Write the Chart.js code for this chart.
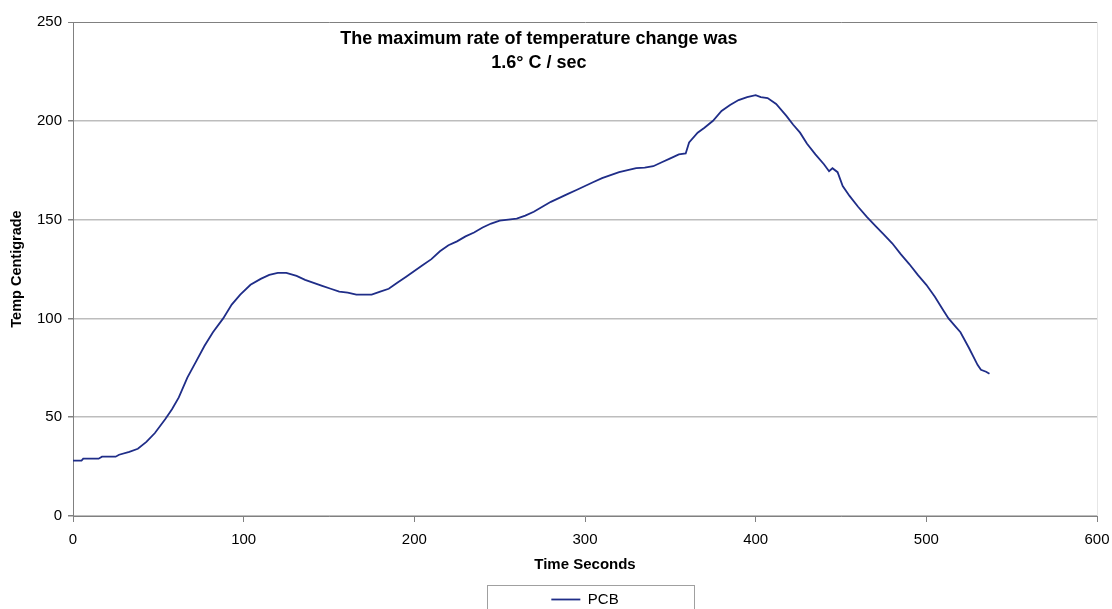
<!DOCTYPE html>
<html>
<head>
<meta charset="utf-8">
<script src="https://cdn.jsdelivr.net/npm/chart.js@4/dist/chart.umd.min.js"></script>
<style>
  html, body { margin: 0; padding: 0; background: #fff; overflow: hidden; }
  #wrap { width: 1112px; height: 617px; position: relative; }
</style>
</head>
<body>
<div id="wrap"><canvas id="tempChart"></canvas></div>
<script>
// readings off the reflow profile (seconds, deg C)
var timeSeconds = [0, 5, 6, 15, 17, 25, 27, 33, 38, 43, 48, 54, 58, 62, 67, 72, 77, 82, 88, 93,
  98, 104, 110, 115, 120, 125, 131, 136, 141, 146, 151, 156, 161, 166, 170, 175, 180, 185, 190, 195,
  200, 205, 210, 215, 220, 225, 230, 235, 240, 245, 250, 255, 260, 265, 270, 275, 280, 285, 290, 295,
  300, 305, 310, 315, 320, 325, 330, 335, 340, 345, 350, 355, 359, 361, 366, 370, 375, 380, 385, 390,
  395, 400, 403, 407, 412, 418, 422, 426, 430, 435, 440, 443, 445, 448, 451, 455, 460, 465, 470, 475,
  480, 485, 490, 495, 500, 505, 510, 513, 517, 520, 525, 530, 532, 535, 537];
var pcbTemp = [28, 28, 29, 29, 30, 30, 31, 32.5, 34, 37.5, 42, 49, 54, 60, 70, 78, 86, 93, 100, 107,
  112, 117, 120, 122, 123, 123, 121.5, 119.5, 118, 116.5, 115, 113.5, 113, 112, 112, 112, 113.5, 115, 118, 121,
  124, 127, 130, 134, 137, 139, 141.5, 143.5, 146, 148, 149.5, 150, 150.5, 152, 154, 156.5, 159, 161, 163, 165,
  167, 169, 171, 172.5, 174, 175, 176, 176.3, 177, 179, 181, 183, 183.5, 189, 194, 196.5, 200, 205, 208, 210.5,
  212, 213, 212, 211.5, 208.5, 202.5, 198, 194, 188.5, 183, 178, 174.5, 176, 174, 167, 162, 156.5, 151.5, 147, 142.5,
  138, 132.5, 127.5, 122, 117, 111, 104, 100, 96, 93, 85, 76.5, 74, 73, 72];

var seriesName = 'PCB';
var xTitle = 'Time Seconds';
var yTitle = 'Temp Centigrade';
var noteLines = ['The maximum rate of temperature change was', '1.6\u00B0 C / sec'];

var points = [];
for (var i = 0; i < timeSeconds.length; i++) {
  points.push({ x: timeSeconds[i], y: pcbTemp[i] });
}

Chart.defaults.font.family = '"Liberation Sans", Arial, sans-serif';
Chart.defaults.color = '#000';

// note text inside the plot + frame around the legend
var extras = {
  id: 'extras',
  afterDraw: function (chart) {
    var ctx = chart.ctx;
    var area = chart.chartArea;
    ctx.save();
    ctx.fillStyle = '#000';
    ctx.font = 'bold 18px "Liberation Sans", Arial, sans-serif';
    ctx.textAlign = 'center';
    ctx.textBaseline = 'alphabetic';
    var cx = area.left + (area.right - area.left) * 0.455;
    ctx.fillText(noteLines[0], cx, area.top + 22);
    ctx.fillText(noteLines[1], cx, area.top + 45.5);

    var hb = chart.legend.legendHitBoxes[0];
    if (hb) {
      var mid = hb.left + hb.width / 2 + 5;
      ctx.strokeStyle = '#a0a0a0';
      ctx.lineWidth = 1;
      ctx.strokeRect(Math.round(mid - 103.5) + 0.5, 585.5, 207, 40);
    }
    ctx.restore();
  }
};

var ctx = document.getElementById('tempChart').getContext('2d');
var myChart = new Chart(ctx, {
  type: 'line',
  data: {
    datasets: [{
      label: seriesName,
      data: points,
      borderColor: '#1f2d88',
      backgroundColor: '#1f2d88',
      borderWidth: 1.8,
      pointRadius: 0,
      tension: 0,
      fill: false
    }]
  },
  options: {
    responsive: true,
    maintainAspectRatio: false,
    animation: false,
    layout: { padding: { top: 22, right: 0, left: 0, bottom: 0 } },
    plugins: {
      tooltip: { enabled: false },
      legend: {
        display: true,
        position: 'bottom',
        fullSize: false,
        labels: {
          usePointStyle: true,
          pointStyle: 'line',
          pointStyleWidth: 29,
          padding: 0,
          font: { size: 15 },
          color: '#000'
        }
      }
    },
    scales: {
      x: {
        type: 'linear',
        min: 0,
        max: 600,
        afterFit: function (scale) {
          scale.height = 76;
          scale.paddingRight = 15;
        },
        ticks: { stepSize: 100, padding: 9, font: { size: 15 }, color: '#000', maxRotation: 0 },
        grid: {
          drawOnChartArea: true,
          color: function (c) { return c.tick && c.tick.value === 600 ? '#e6e6e6' : 'rgba(0,0,0,0)'; },
          tickColor: '#808080',
          tickLength: 6,
          lineWidth: 1
        },
        border: { color: '#808080', width: 1 },
        title: { display: true, text: xTitle, font: { size: 15, weight: 'bold' }, color: '#000', padding: { top: 0, bottom: 18 } }
      },
      y: {
        min: 0,
        max: 250,
        afterFit: function (scale) { scale.width = 73; },
        ticks: { stepSize: 50, padding: 6, font: { size: 15 }, color: '#000' },
        grid: {
          color: function (c) { return c.tick && c.tick.value === 250 ? '#808080' : '#bdbdbd'; },
          lineWidth: function (c) { return c.tick && c.tick.value === 250 ? 1 : 1.5; },
          tickColor: '#808080',
          tickLength: 5
        },
        border: { color: '#808080', width: 1 },
        title: { display: true, text: yTitle, font: { size: 14.5, weight: 'bold' }, color: '#000', padding: { top: 8, bottom: 0 } }
      }
    }
  },
  plugins: [extras]
});
</script>
</body>
</html>
